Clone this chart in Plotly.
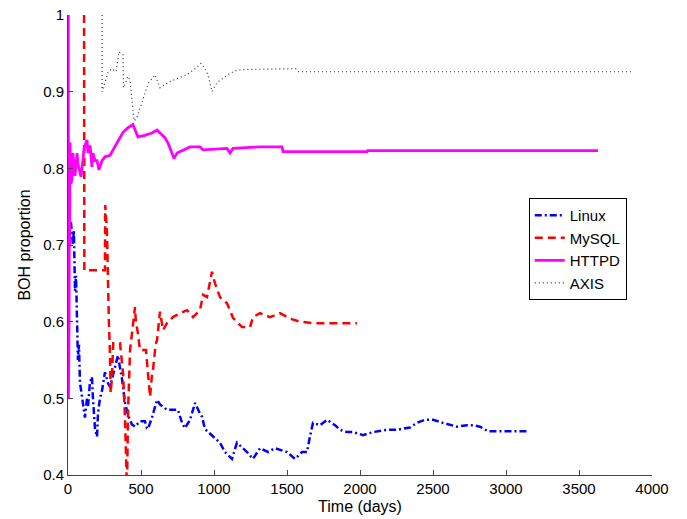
import plotly.graph_objects as go

# ---------------- data ----------------
linux_x = [20, 34, 40, 48, 55, 62, 68, 75, 82, 90, 103, 116, 130, 137, 150, 164, 171, 185, 199, 205,
           219, 233, 253, 274, 288, 301, 342, 356, 370, 390, 411, 438, 459, 493, 527, 541, 548, 575,
           610, 630, 678, 733, 753, 781, 801, 836, 870, 904, 918, 938, 993, 1041, 1075, 1123, 1157,
           1226, 1267, 1315, 1370, 1418, 1500, 1555, 1603, 1637, 1657, 1678, 1726, 1774, 1829, 1863,
           1911, 1952, 2021, 2089, 2185, 2253, 2342, 2390, 2445, 2500, 2568, 2664, 2733, 2774, 2822,
           2877, 3144]
linux_y = [0.73, 0.70, 0.72, 0.64, 0.66, 0.59, 0.55, 0.57, 0.52, 0.51, 0.49, 0.475, 0.50, 0.49, 0.52,
           0.528, 0.50, 0.46, 0.45, 0.48, 0.50, 0.51, 0.534, 0.52, 0.515, 0.524, 0.556, 0.54, 0.525,
           0.495, 0.478, 0.466, 0.463, 0.47, 0.47, 0.461, 0.46, 0.475, 0.498, 0.492, 0.485, 0.485,
           0.485, 0.468, 0.461, 0.472, 0.494, 0.48, 0.476, 0.46, 0.45, 0.442, 0.43, 0.421, 0.442,
           0.43, 0.421, 0.435, 0.43, 0.435, 0.43, 0.421, 0.43, 0.43, 0.45, 0.468, 0.465, 0.472,
           0.465, 0.459, 0.456, 0.456, 0.452, 0.456, 0.459, 0.459, 0.462, 0.468, 0.472, 0.472,
           0.468, 0.463, 0.465, 0.465, 0.463, 0.457, 0.457]

mysql_x = [110, 112, 253, 255, 267, 274, 280, 288, 292, 300, 310, 356, 377, 390, 404, 411, 418, 425,
           459, 465, 479, 493, 534, 548, 562, 575, 582, 600, 610, 630, 651, 678, 719, 767, 815, 856,
           904, 925, 952, 986, 1007, 1041, 1089, 1130, 1192, 1247, 1267, 1315, 1384, 1452, 1520,
           1589, 1678, 1979]
mysql_y = [1.0, 0.667, 0.667, 0.752, 0.716, 0.628, 0.60, 0.554, 0.507, 0.525, 0.572, 0.572, 0.533,
           0.476, 0.38, 0.481, 0.515, 0.563, 0.619, 0.60, 0.585, 0.563, 0.563, 0.533, 0.502, 0.53,
           0.537, 0.57, 0.576, 0.613, 0.589, 0.598, 0.606, 0.611, 0.615, 0.606, 0.615, 0.635, 0.632,
           0.665, 0.65, 0.632, 0.624, 0.605, 0.593, 0.593, 0.606, 0.611, 0.606, 0.611, 0.604, 0.60,
           0.598, 0.598]

httpd_x = [2, 3, 5, 7, 9, 11, 14, 20, 27, 34, 48, 62, 68, 89, 103, 110, 130, 137, 151, 164, 171, 185,
           199, 212, 233, 253, 288, 308, 342, 377, 411, 445, 479, 527, 575, 610, 630, 664, 685, 712,
           726, 747, 788, 836, 904, 925, 1089, 1110, 1130, 1315, 1466, 1473, 2048, 2052, 3630]
httpd_y = [1.0, 0.5, 0.667, 0.6, 0.75, 0.7, 0.834, 0.78, 0.785, 0.82, 0.79, 0.82, 0.806, 0.789, 0.812,
           0.826, 0.837, 0.82, 0.83, 0.802, 0.82, 0.81, 0.81, 0.798, 0.81, 0.815, 0.817, 0.824, 0.834,
           0.847, 0.853, 0.857, 0.841, 0.843, 0.846, 0.85, 0.846, 0.84, 0.833, 0.821, 0.813, 0.82,
           0.824, 0.828, 0.828, 0.824, 0.826, 0.82, 0.826, 0.828, 0.828, 0.8217, 0.8217, 0.823, 0.823]

axis_x = [233, 233, 250, 274, 300, 329, 349, 377, 380, 410, 425, 452, 470, 486, 514, 548, 596, 630,
          685, 747, 815, 884, 911, 938, 959, 979, 986, 1021, 1062, 1110, 1157, 1226, 1560, 1580, 3860]
axis_y = [1.0, 0.90, 0.91, 0.925, 0.93, 0.926, 0.952, 0.948, 0.905, 0.92, 0.915, 0.862, 0.865, 0.875,
          0.89, 0.91, 0.922, 0.905, 0.912, 0.917, 0.922, 0.932, 0.937, 0.93, 0.922, 0.906, 0.90,
          0.912, 0.918, 0.924, 0.928, 0.929, 0.93, 0.926, 0.926]

x_ticks = [0, 500, 1000, 1500, 2000, 2500, 3000, 3500, 4000]
y_ticks = [0.4, 0.5, 0.6, 0.7, 0.8, 0.9, 1.0]
y_tick_text = ["0.4", "0.5", "0.6", "0.7", "0.8", "0.9", "1"]

# ---------------- figure ----------------
fig = go.Figure()
fig.add_trace(go.Scatter(x=linux_x, y=linux_y, mode="lines", name="Linux",
                         line=dict(color="#0000ff", width=2.5, dash="7px,3px,2px,3px")))
fig.add_trace(go.Scatter(x=mysql_x, y=mysql_y, mode="lines", name="MySQL",
                         line=dict(color="#ff0000", width=2.5, dash="8px,5px")))
fig.add_trace(go.Scatter(x=httpd_x, y=httpd_y, mode="lines", name="HTTPD",
                         line=dict(color="#ff00ff", width=2.8)))
fig.add_trace(go.Scatter(x=axis_x, y=axis_y, mode="lines", name="AXIS",
                         line=dict(color="#333333", width=1.2, dash="1px,3px")))

font = "Liberation Sans, Arial, Helvetica, sans-serif"
fig.update_layout(
    width=687, height=519,
    margin=dict(l=68, r=35, t=15, b=44),
    paper_bgcolor="white", plot_bgcolor="white",
    font=dict(family=font, size=15, color="#000000"),
    showlegend=True,
    legend=dict(x=0.789, y=0.602, xanchor="left", yanchor="top",
                bgcolor="white", bordercolor="#000000", borderwidth=1,
                font=dict(family=font, size=15, color="#000000"),
                tracegroupgap=0),
    xaxis=dict(range=[0, 4000], tickvals=x_ticks, ticks="inside", ticklen=5,
               tickcolor="#444444", showline=True, linecolor="#444444", linewidth=1,
               showgrid=False, zeroline=False, mirror=False, automargin=False,
               title=dict(text="Time (days)", font=dict(size=16), standoff=4),
               tickfont=dict(size=15)),
    yaxis=dict(range=[0.4, 1.0], tickvals=y_ticks, ticktext=y_tick_text, ticks="inside",
               ticklen=5, tickcolor="#444444", showline=True, linecolor="#444444", linewidth=1,
               showgrid=False, zeroline=False, mirror=False, automargin=False,
               title=dict(text="BOH proportion", font=dict(size=16), standoff=8),
               tickfont=dict(size=15)),
)

fig.write_html("out.html")
